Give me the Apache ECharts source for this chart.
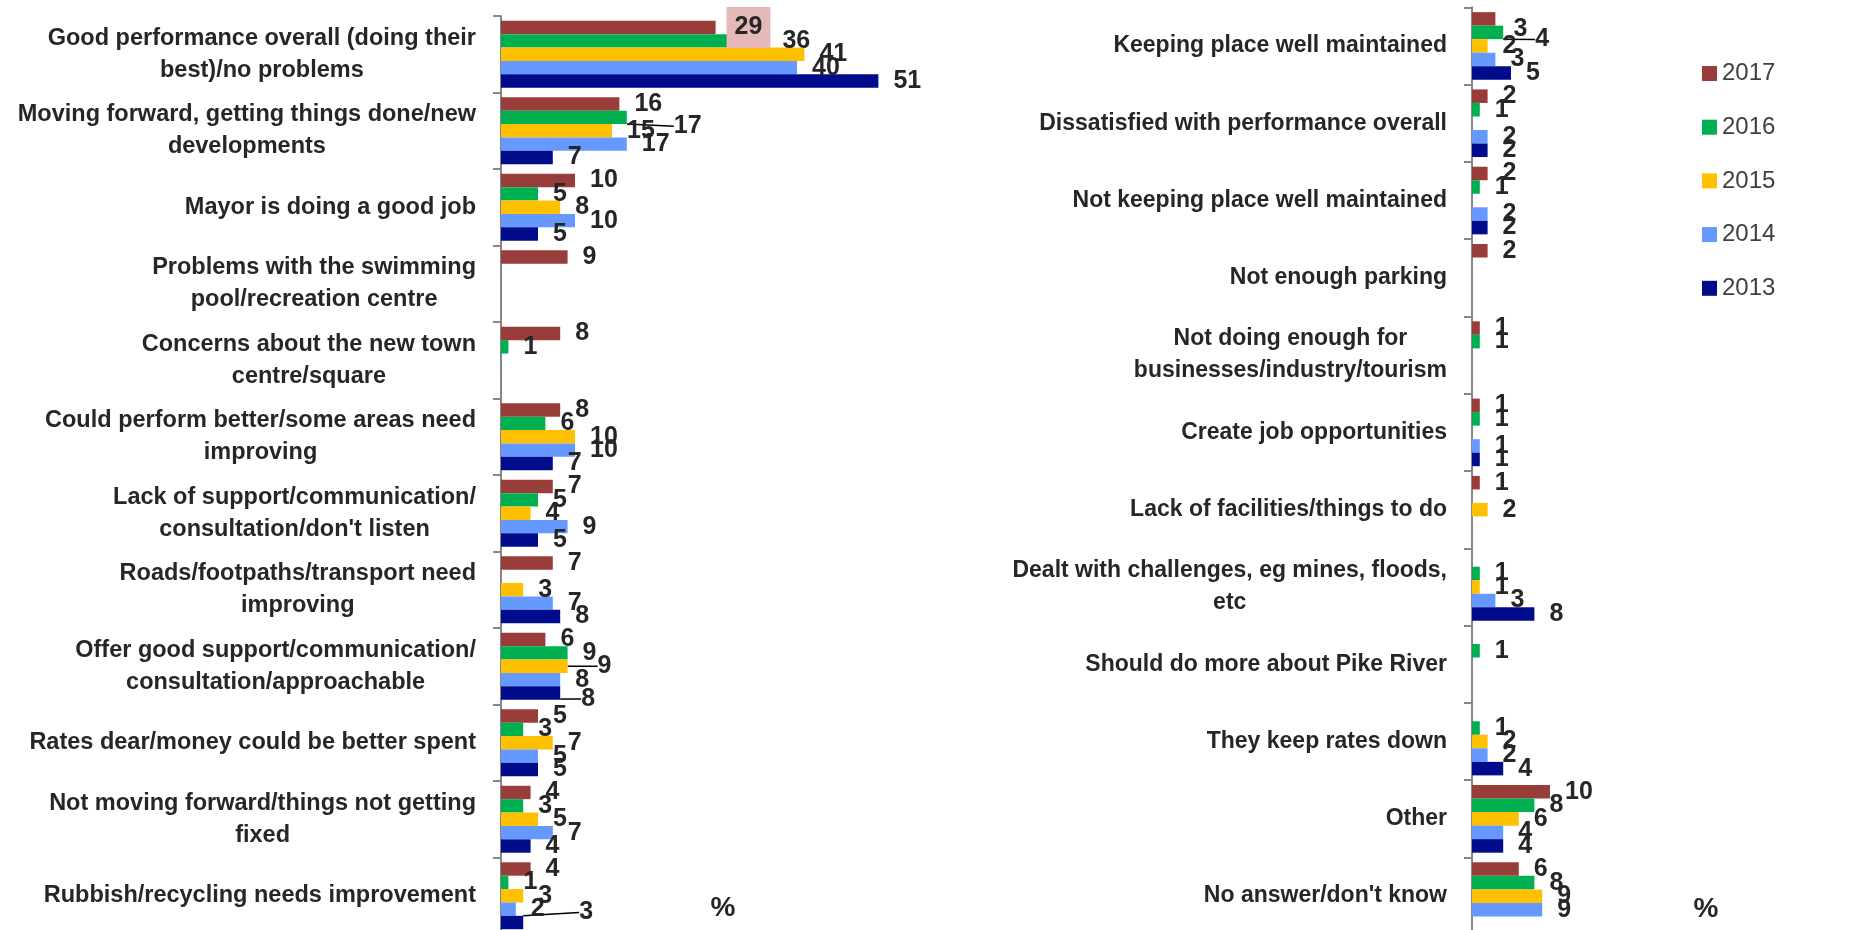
<!DOCTYPE html>
<html>
<head>
<meta charset="utf-8">
<script src="https://cdn.jsdelivr.net/npm/echarts@6/dist/echarts.min.js"></script>
<style>
  html, body { margin: 0; padding: 0; background: #ffffff; overflow: hidden; }
  #chart { width: 1874px; height: 930px; }
</style>
</head>
<body>
<div id="chart"></div>
<script>
// Survey years, newest first
const years = ['2017', '2016', '2015', '2014', '2013'];

// Left panel: comment categories
const leftCategories = [
  'Good performance overall (doing their\nbest)/no problems',
  'Moving forward, getting things done/new\ndevelopments',
  'Mayor is doing a good job',
  'Problems with the swimming\npool/recreation centre',
  'Concerns about the new town\ncentre/square',
  'Could perform better/some areas need\nimproving',
  "Lack of support/communication/\nconsultation/don't listen",
  'Roads/footpaths/transport need\nimproving',
  'Offer good support/communication/\nconsultation/approachable',
  'Rates dear/money could be better spent',
  'Not moving forward/things not getting\nfixed',
  'Rubbish/recycling needs improvement'
];
const left2017 = [29, 16, 10, 9, 8, 8, 7, 7, 6, 5, 4, 4];
const left2016 = [36, 17, 5, null, 1, 6, 5, null, 9, 3, 3, 1];
const left2015 = [41, 15, 8, null, null, 10, 4, 3, 9, 7, 5, 3];
const left2014 = [40, 17, 10, null, null, 10, 9, 7, 8, 5, 7, 2];
const left2013 = [51, 7, 5, null, null, 7, 5, 8, 8, 5, 4, 3];

// Right panel: comment categories
const rightCategories = [
  'Keeping place well maintained',
  'Dissatisfied with performance overall',
  'Not keeping place well maintained',
  'Not enough parking',
  'Not doing enough for\nbusinesses/industry/tourism',
  'Create job opportunities',
  'Lack of facilities/things to do',
  'Dealt with challenges, eg mines, floods,\netc',
  'Should do more about Pike River',
  'They keep rates down',
  'Other',
  "No answer/don't know"
];
const right2017 = [3, 2, 2, 2, 1, 1, 1, null, null, null, 10, 6];
const right2016 = [4, 1, 1, null, 1, 1, null, 1, 1, 1, 8, 8];
const right2015 = [2, null, null, null, null, null, 2, 1, null, 2, 6, 9];
const right2014 = [3, 2, 2, null, null, 1, null, 3, null, 2, 4, 9];
const right2013 = [5, 2, 2, null, null, 1, null, 8, null, 4, 4, null];

const leftValues = [left2017, left2016, left2015, left2014, left2013];
const rightValues = [right2017, right2016, right2015, right2014, right2013];

const yearColors = ['#993d3b', '#00b050', '#ffc000', '#6699ff', '#000c8c'];
const FONT = 'Liberation Sans';
const TEXT = '#262626';

// Labels that are pushed aside to avoid overlaps: [panel, year, category, dx, dy, leader line]
const labelNudges = [
  ['left', '2016', 1, 32, 9, true],
  ['left', '2015', 8, 15, 0, true],
  ['left', '2013', 8, 6, 6, true],
  ['left', '2013', 11, 41, -10, true],
  ['right', '2017', 0, 3, 10, false],
  ['right', '2016', 0, 17, 7, true]
];
function findNudge(panel, year, idx) {
  return labelNudges.find(n => n[0] === panel && n[1] === year && n[2] === idx);
}

function buildSeries(panel, valuesByYear, axisIdx) {
  return years.map((year, yi) => ({
    type: 'bar',
    name: year,
    xAxisIndex: axisIdx,
    yAxisIndex: axisIdx,
    barGap: '0%',
    barCategoryGap: '12.5%',
    itemStyle: { color: yearColors[yi] },
    label: {
      show: true,
      position: 'right',
      distance: 15,
      fontFamily: FONT,
      fontSize: 25,
      fontWeight: 'bold',
      color: TEXT
    },
    labelLine: { show: false, lineStyle: { color: '#000000', width: 1.5 } },
    labelLayout: function (p) {
      const n = findNudge(panel, year, p.dataIndex);
      return n ? { dx: n[3], dy: n[4] } : {};
    },
    data: valuesByYear[yi].map((v, ci) => {
      const item = { value: v };
      const n = findNudge(panel, year, ci);
      if (n && n[5]) item.labelLine = { show: true };
      // highlighted headline figure
      if (panel === 'left' && year === '2017' && ci === 0) {
        item.label = { backgroundColor: '#e6b9b8', padding: [8, 8, 8, 8], distance: 11 };
      }
      return item;
    }),
    animation: false
  }));
}

function categoryAxis(cats, gridIdx, fontSize) {
  return {
    type: 'category',
    gridIndex: gridIdx,
    data: cats,
    inverse: true,
    axisLine: { show: true, lineStyle: { color: '#868686', width: 2 } },
    axisTick: { show: true, length: 8, lineStyle: { color: '#868686', width: 2 } },
    axisLabel: {
      interval: 0,
      margin: 25,
      formatter: v => v.split('\n').map(s => '{c|' + s + '}').join('\n'),
      rich: {
        c: {
          align: 'center',
          fontFamily: FONT,
          fontSize: fontSize,
          fontWeight: 'bold',
          color: TEXT,
          lineHeight: 32
        }
      }
    }
  };
}

function valueAxis(gridIdx) {
  return {
    type: 'value',
    gridIndex: gridIdx,
    min: 0,
    max: 60,
    axisLine: { show: false },
    axisTick: { show: false },
    axisLabel: { show: false },
    splitLine: { show: false },
    name: '%',
    nameLocation: 'middle',
    nameGap: -40,
    nameTextStyle: { fontFamily: FONT, fontSize: 28, fontWeight: 'bold', color: TEXT }
  };
}

const chart = echarts.init(document.getElementById('chart'));
chart.setOption({
  backgroundColor: '#ffffff',
  animation: false,
  grid: [
    { left: 501, top: 16, width: 444, height: 918, outerBoundsMode: 'none', containLabel: false },
    { left: 1472, top: 7.3, width: 468, height: 927.5, outerBoundsMode: 'none', containLabel: false }
  ],
  xAxis: [valueAxis(0), valueAxis(1)],
  yAxis: [categoryAxis(leftCategories, 0, 23.5), categoryAxis(rightCategories, 1, 23)],
  legend: {
    orient: 'vertical',
    left: 1702,
    top: 61.5,
    padding: 0,
    itemWidth: 15,
    itemHeight: 15,
    itemGap: 29.7,
    icon: 'rect',
    selectedMode: false,
    data: years,
    textStyle: { fontFamily: FONT, fontSize: 24, color: '#404040', lineHeight: 24 }
  },
  series: buildSeries('left', leftValues, 0).concat(buildSeries('right', rightValues, 1))
});
</script>
</body>
</html>
